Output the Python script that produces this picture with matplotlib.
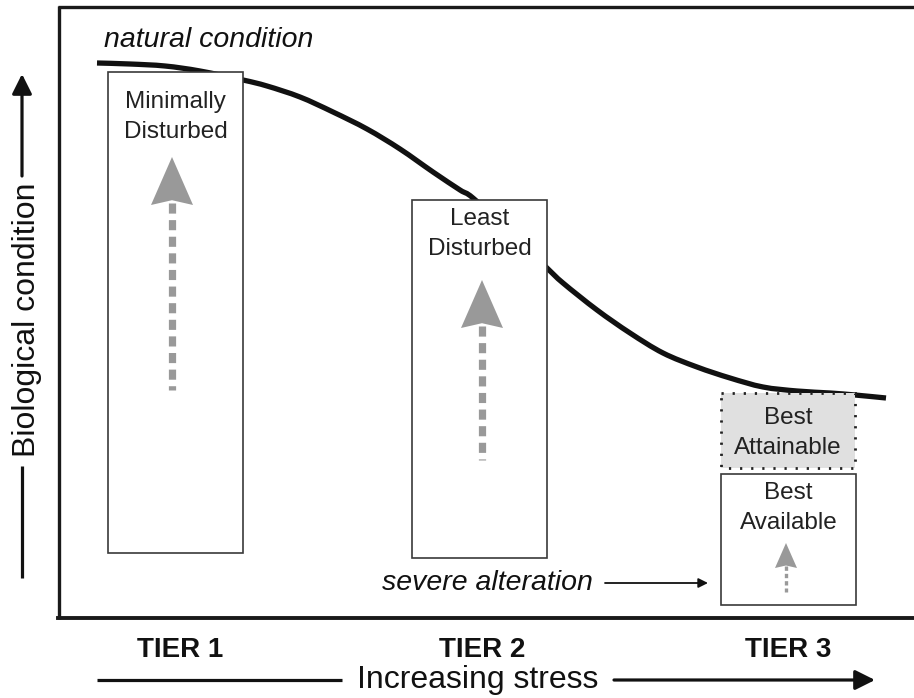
import matplotlib
matplotlib.use("Agg")
import matplotlib.pyplot as plt
from matplotlib.patches import Rectangle, Polygon, PathPatch
from matplotlib.path import Path

plt.rcParams['font.family'] = ['Liberation Sans', 'DejaVu Sans']

# ---- data (diagram units: x = stress position, y = condition position, screen-like) ----
curve_x = [97, 130, 165, 200, 243, 267, 300, 333, 367, 400, 433, 460, 473, 510, 547, 563, 597, 630, 663, 697, 730, 763, 797, 830, 855, 886]
curve_y = [63, 64, 66, 71, 80, 86, 97, 112, 129, 149, 172, 190, 198, 232, 268, 283, 310, 333, 353, 367, 378, 387, 391, 393, 395, 398]

tier_labels = ["TIER 1", "TIER 2", "TIER 3"]
tier_x = [180, 482, 788]

box_labels = ["Minimally\nDisturbed", "Least\nDisturbed", "Best\nAvailable"]
box_left = [108, 412, 721]
box_right = [243, 547, 856]
box_top = [72, 200, 474]
box_bottom = [553, 558, 605]
box_label_y = [117, 234, 508]

attain_label = "Best\nAttainable"
attain_box = (721, 393, 855, 468)   # left, top, right, bottom
attain_label_y = 433

# improvement arrows: x, tip y, head base y, tail y, head half-width
arrow_x = [172, 482, 786]
arrow_tip = [157, 280, 543]
arrow_base = [205, 328, 568]
arrow_tail = [390, 460, 592]
arrow_half = [21, 21, 11]
arrow_lw = [5.2, 5.2, 2.4]

fig = plt.figure(figsize=(9.14, 6.98), dpi=100)
ax = fig.add_axes([0, 0, 1, 1])
ax.set_xlim(0, 914)
ax.set_ylim(698, 0)
ax.axis('off')

# frame
fk = dict(color='#1a1a1a', lw=2.4, solid_capstyle='butt', zorder=5)
ax.plot([59, 59], [6, 619], **fk)
ax.plot([58, 914], [7, 7], **fk)
ax.plot([58, 914], [618, 618], color='#1a1a1a', lw=2.8, zorder=5)

# curve drawn as a smooth Bezier path through the read points (Catmull-Rom handles)
pts = list(zip(curve_x, curve_y))
verts = [pts[0]]
codes = [Path.MOVETO]
for i in range(len(pts) - 1):
    p0 = pts[i - 1] if i > 0 else pts[i]
    p1 = pts[i]
    p2 = pts[i + 1]
    p3 = pts[i + 2] if i + 2 < len(pts) else pts[i + 1]
    c1 = (p1[0] + (p2[0] - p0[0]) / 6, p1[1] + (p2[1] - p0[1]) / 6)
    c2 = (p2[0] - (p3[0] - p1[0]) / 6, p2[1] - (p3[1] - p1[1]) / 6)
    verts += [c1, c2, p2]
    codes += [Path.CURVE4] * 3
ax.add_patch(PathPatch(Path(verts, codes), facecolor='none', edgecolor='#111111', lw=3.8,
                       capstyle='butt', zorder=2))

# boxes
for lab, l, r, t, b, ly in zip(box_labels, box_left, box_right, box_top, box_bottom, box_label_y):
    ax.add_patch(Rectangle((l, t), r - l, b - t, facecolor='white', edgecolor='#3a3a3a', lw=1.2, zorder=3))
    ax.text((l + r) / 2, ly, lab, ha='center', va='center', fontsize=17.5, color='#222222',
            linespacing=1.45, zorder=4)

l, t, r, b = attain_box
ax.add_patch(Rectangle((l, t), r - l, b - t, facecolor='#e0e0e0', edgecolor='none', zorder=3))
ax.add_patch(Rectangle((l, t), r - l, b - t, facecolor='none', edgecolor='#222222', lw=2.0,
                       linestyle=(0, (0.8, 3.2)), zorder=4))
ax.text((l + r) / 2, attain_label_y, attain_label, ha='center', va='center', fontsize=17.5,
        color='#222222', linespacing=1.45, zorder=4)

# gray arrows
for x, tip, base, tail, hw, lw in zip(arrow_x, arrow_tip, arrow_base, arrow_tail, arrow_half, arrow_lw):
    dash = (1.4, 0.9) if lw > 3 else (1.3, 0.9)
    ax.plot([x, x], [base - 2, tail], color='#999999', lw=lw, linestyle=(0, dash),
            solid_capstyle='butt', dash_capstyle='butt', zorder=4)
    notch = (base - tip) * 0.1
    ax.add_patch(Polygon([(x, tip), (x - hw, base), (x, base - notch), (x + hw, base)],
                         closed=True, facecolor='#999999', edgecolor='none', zorder=4))

# texts
ax.text(104, 40, "natural condition", style='italic', fontsize=20.5, ha='left', va='center', color='#111111')
ax.text(382, 583, "severe alteration", style='italic', fontsize=20.5, ha='left', va='center', color='#111111')
ax.annotate("", xy=(708, 583), xytext=(605, 583),
            arrowprops=dict(arrowstyle='-|>', color='#111111', lw=1.3, mutation_scale=14,
                            shrinkA=0, shrinkB=0))

for lab, x in zip(tier_labels, tier_x):
    ax.text(x, 650, lab, ha='center', va='center', fontsize=20, fontweight='bold', color='#111111')

ax.text(478, 680, "Increasing stress", ha='center', va='center', fontsize=23, color='#111111')
ax.plot([97, 342], [680, 680], color='#111111', lw=2.3, solid_capstyle='butt')
ax.annotate("", xy=(875, 680), xytext=(614, 680),
            arrowprops=dict(arrowstyle='-|>', color='#111111', lw=2.3, mutation_scale=30,
                            shrinkA=0, shrinkB=0))

ax.text(27, 320, "Biological condition", ha='center', va='center', rotation=90, fontsize=23, color='#111111')
ax.plot([22, 22], [578, 466], color='#111111', lw=2.3, solid_capstyle='butt')
ax.annotate("", xy=(22, 74), xytext=(22, 176),
            arrowprops=dict(arrowstyle='-|>', color='#111111', lw=2.3, mutation_scale=30,
                            shrinkA=0, shrinkB=0))

fig.savefig("out.png", dpi=100)
